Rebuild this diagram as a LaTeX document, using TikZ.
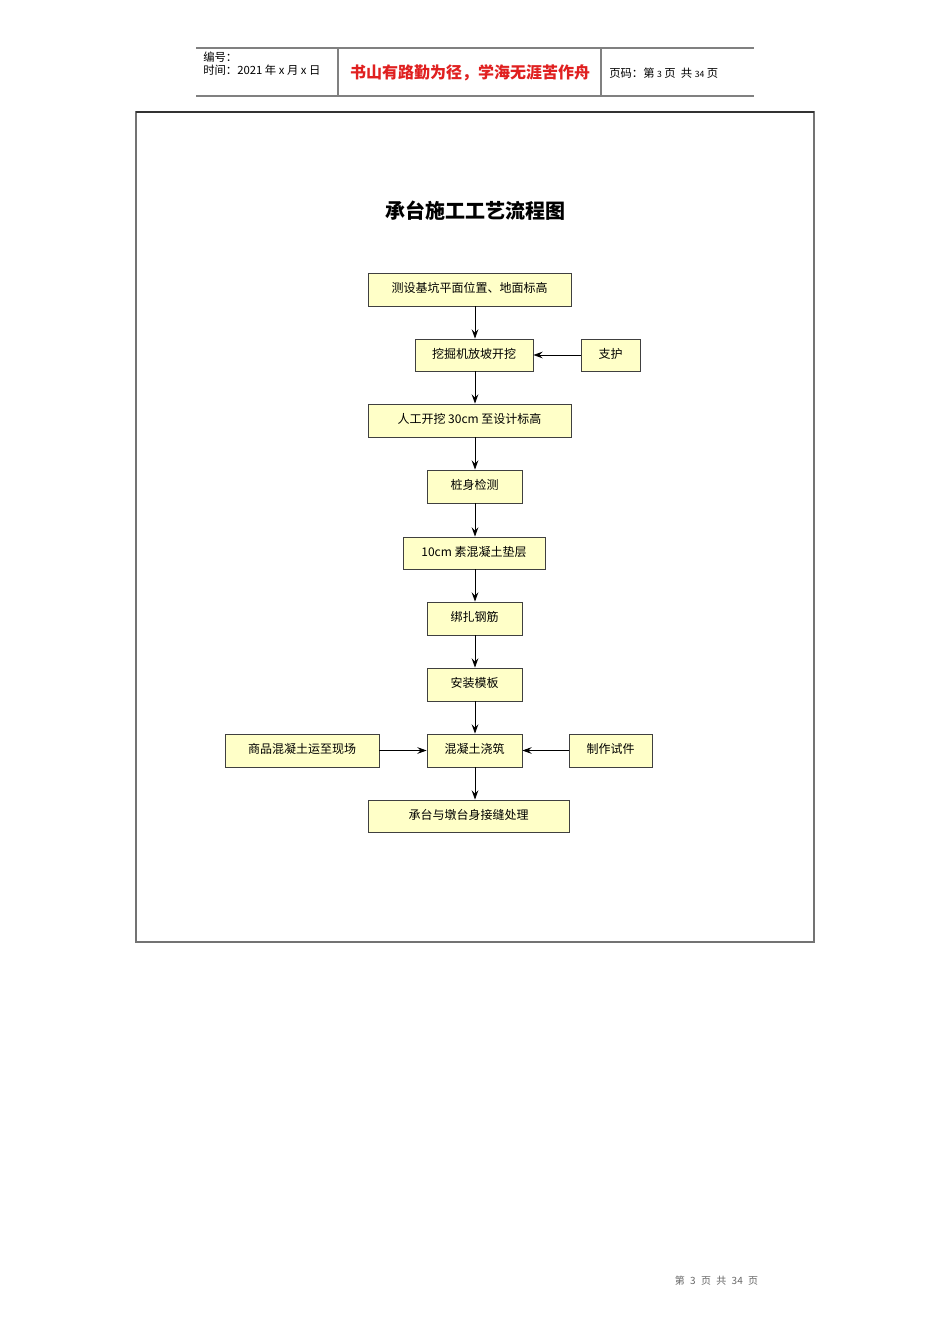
\documentclass[tikz,border=0pt]{standalone}
\usepackage{fontspec}
\setmainfont{Liberation Sans}
\newfontfamily\cjk{Noto Sans CJK SC}
\usetikzlibrary{arrows.meta}
\definecolor{boxfill}{HTML}{FFFFC8}
\definecolor{hdrline}{HTML}{808080}
\definecolor{redtext}{HTML}{E02020}
\tikzset{
  flowbox/.style={draw=black!75, fill=boxfill, line width=0.6pt, inner sep=0pt, text depth=3pt, font=\cjk\fontsize{9}{10}\selectfont},
  flowarrow/.style={draw=black, line width=0.6pt, -{Stealth[length=7pt,width=5pt,inset=2.5pt]}},
  hdr/.style={font=\cjk\fontsize{8.5}{9}\selectfont, inner sep=0pt, anchor=west},
  hdrrule/.style={draw=hdrline, line width=0.8pt}
}
\begin{document}
\begin{tikzpicture}[x=0.75pt, y=-0.75pt]
\useasboundingbox (0,0) rectangle (950,1344);
\fill[white] (0,0) rectangle (950,1344);
% header
\draw[hdrrule] (196,48) -- (754,48);
\draw[hdrrule] (196,96) -- (754,96);
\draw[hdrrule] (338,48) -- (338,96);
\draw[hdrrule] (601,48) -- (601,96);
\node[hdr] (h1) at (203,57) {编号：};
\node[hdr] (h2) at (203,70) {时间：2021 年 x 月 x 日};
\node[font=\cjk\bfseries\fontsize{12}{13}\selectfont, text=redtext, inner sep=0pt] (h3) at (470,73) {书山有路勤为径，学海无涯苦作舟};
\node[hdr] (h4) at (609,73) {页码：第 {\fontsize{6.5}{7}\selectfont 3} 页\ \ 共 {\fontsize{6.5}{7}\selectfont 34} 页};
% frame
\draw[draw=black!55, line width=1.6pt] (136,112) rectangle (814,942);
\draw[draw=black!80, line width=0.8pt] (136,112) -- (814,112);
% title
\node[font=\cjk\bfseries\fontsize{15}{17}\selectfont, inner sep=0pt] (title) at (475,211) {承台施工工艺流程图};
% column of arrows
\coordinate (col) at (475,0);
% boxes
\node[flowbox, minimum width={203*0.75pt}, minimum height={33*0.75pt}] (b1) at (469.5,289.5) {测设基坑平面位置、地面标高};
\node[flowbox, minimum width={118*0.75pt}, minimum height={32*0.75pt}] (b2) at (474,355) {挖掘机放坡开挖};
\node[flowbox, minimum width={59*0.75pt}, minimum height={32*0.75pt}] (s1) at (610.5,355) {支护};
\node[flowbox, minimum width={203*0.75pt}, minimum height={33*0.75pt}] (b3) at (469.5,420.5) {人工开挖 30cm 至设计标高};
\node[flowbox, minimum width={95*0.75pt}, minimum height={33*0.75pt}] (b4) at (474.5,486.5) {桩身检测};
\node[flowbox, minimum width={142*0.75pt}, minimum height={32*0.75pt}] (b5) at (474,553) {10cm 素混凝土垫层};
\node[flowbox, minimum width={95*0.75pt}, minimum height={33*0.75pt}] (b6) at (474.5,618.5) {绑扎钢筋};
\node[flowbox, minimum width={95*0.75pt}, minimum height={33*0.75pt}] (b7) at (474.5,684.5) {安装模板};
\node[flowbox, minimum width={95*0.75pt}, minimum height={33*0.75pt}] (b8) at (474.5,750.5) {混凝土浇筑};
\node[flowbox, minimum width={154*0.75pt}, minimum height={33*0.75pt}] (s2) at (302,750.5) {商品混凝土运至现场};
\node[flowbox, minimum width={83*0.75pt}, minimum height={33*0.75pt}] (s3) at (610.5,750.5) {制作试件};
\node[flowbox, minimum width={201*0.75pt}, minimum height={32*0.75pt}] (b9) at (468.5,816) {承台与墩台身接缝处理};
% arrows
\draw[flowarrow] (b1.south -| col) -- (b2.north -| col);
\draw[flowarrow] (b2.south -| col) -- (b3.north -| col);
\draw[flowarrow] (b3.south -| col) -- (b4.north -| col);
\draw[flowarrow] (b4.south -| col) -- (b5.north -| col);
\draw[flowarrow] (b5.south -| col) -- (b6.north -| col);
\draw[flowarrow] (b6.south -| col) -- (b7.north -| col);
\draw[flowarrow] (b7.south -| col) -- (b8.north -| col);
\draw[flowarrow] (b8.south -| col) -- (b9.north -| col);
\draw[flowarrow] (s1.west) -- (b2.east);
\draw[flowarrow] (s2.east) -- (b8.west);
\draw[flowarrow] (s3.west) -- (b8.east);
% footer
\node[font=\cjk\fontsize{7.5}{8}\selectfont, text=black!60, inner sep=0pt] (foot) at (716.5,1281) {第\hspace{4pt}3\hspace{4pt}页\hspace{4pt}共\hspace{4pt}34\hspace{4pt}页};
\end{tikzpicture}
\end{document}
